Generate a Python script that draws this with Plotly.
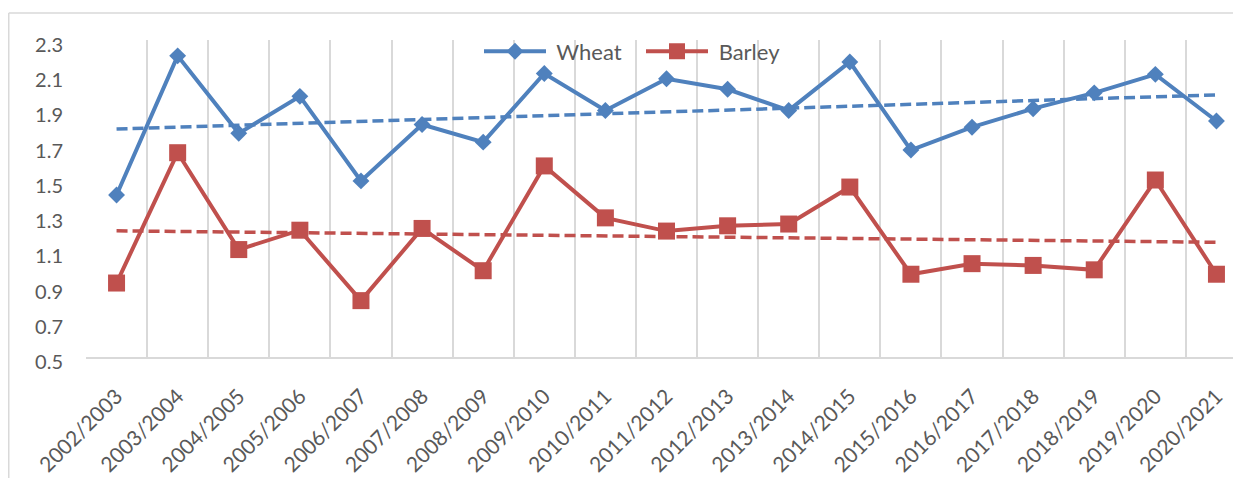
import numpy as np
import plotly.graph_objects as go

seasons = ["2002/2003", "2003/2004", "2004/2005", "2005/2006", "2006/2007",
           "2007/2008", "2008/2009", "2009/2010", "2010/2011", "2011/2012",
           "2012/2013", "2013/2014", "2014/2015", "2015/2016", "2016/2017",
           "2017/2018", "2018/2019", "2019/2020", "2020/2021"]
wheat = [1.42, 2.21, 1.77, 1.98, 1.50, 1.82, 1.72, 2.11, 1.90, 2.08,
         2.02, 1.90, 2.175, 1.675, 1.805, 1.91, 2.00, 2.105, 1.84]
barley = [0.92, 1.66, 1.11, 1.22, 0.82, 1.23, 0.99, 1.585, 1.29, 1.215,
          1.245, 1.255, 1.465, 0.97, 1.03, 1.02, 0.995, 1.505, 0.97]
y_ticks = [0.5, 0.7, 0.9, 1.1, 1.3, 1.5, 1.7, 1.9, 2.1, 2.3]

BLUE = "#4F81BD"
RED = "#C0504D"
GRID = "#D9D9D9"
TXT = "#595959"
FONT = "Lato"

# the page body has an 8px margin, so figure coords = viewport coords - 8
W, H = 1241, 478
L, R, T, B = 78, 2, 32, 129
pw, ph = W - L - R, H - T - B

idx = np.arange(len(seasons))


def trend(vals):
    k, b = np.polyfit(idx, np.array(vals), 1)
    return (k * idx + b).tolist()


fig = go.Figure()
fig.add_trace(go.Scatter(x=seasons, y=trend(wheat), mode="lines", showlegend=False,
                         line=dict(color=BLUE, width=3.5, dash="11px,5px"), hoverinfo="skip"))
fig.add_trace(go.Scatter(x=seasons, y=trend(barley), mode="lines", showlegend=False,
                         line=dict(color=RED, width=3.5, dash="11px,5px"), hoverinfo="skip"))
fig.add_trace(go.Scatter(x=seasons, y=wheat, mode="lines+markers", name=" Wheat",
                         line=dict(color=BLUE, width=4),
                         marker=dict(symbol="diamond", size=13, color=BLUE)))
fig.add_trace(go.Scatter(x=seasons, y=barley, mode="lines+markers", name=" Barley",
                         line=dict(color=RED, width=4),
                         marker=dict(symbol="square", size=17, color=RED)))

# chart-area frame (partially cropped in the reference)
fx0 = (0.75 - L) / pw
fy1 = (H - B - 5) / ph
fig.add_shape(type="line", xref="paper", yref="paper", x0=fx0, x1=fx0, y0=-1, y1=fy1,
              line=dict(color=GRID, width=1.5))
fig.add_shape(type="line", xref="paper", yref="paper", x0=fx0, x1=1.05, y0=fy1, y1=fy1,
              line=dict(color=GRID, width=1.5))

n = len(seasons)
fig.update_layout(
    width=W, height=H,
    margin=dict(l=L, r=R, t=T, b=B, autoexpand=False),
    paper_bgcolor="white", plot_bgcolor="white",
    font=dict(family=FONT, size=20, color=TXT),
    legend=dict(orientation="h", x=(479 - 8 - L) / pw, xanchor="left", y=1.03, yanchor="top",
                bgcolor="rgba(0,0,0,0)", font=dict(family=FONT, size=22, color=TXT),
                itemwidth=62, entrywidth=85, entrywidthmode="pixels",
                traceorder="normal"),
    xaxis=dict(type="category", range=[-0.5, n - 0.5],
               tickson="boundaries", showgrid=True, gridcolor=GRID, gridwidth=1.5,
               showline=True, linecolor=GRID, linewidth=1.5, ticks="",
               tickangle=-45, ticklabelstandoff=17,
               tickfont=dict(family=FONT, size=21, color=TXT),
               automargin=False, zeroline=False),
    yaxis=dict(range=[0.5, 2.3], tickvals=y_ticks, ticktext=[f"{v:.1f}" for v in y_ticks],
               showgrid=False, zeroline=False, showline=False, ticks="",
               ticklabelstandoff=22, ticklabelshift=5,
               tickfont=dict(family=FONT, size=20, color=TXT),
               automargin=False),
)

fig.write_html("out.html")
